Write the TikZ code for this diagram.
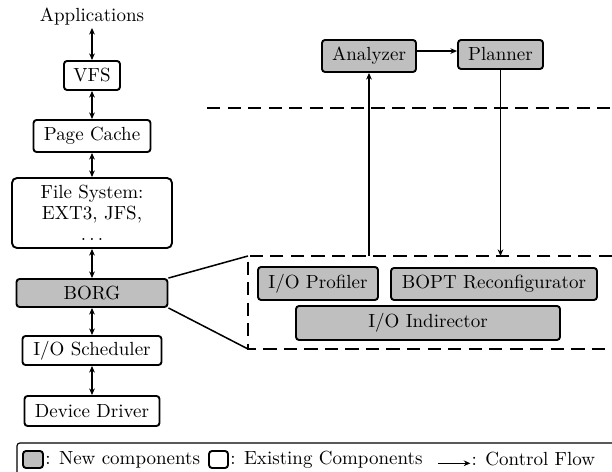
\documentclass[tikz,border=0pt]{standalone}
\usetikzlibrary{arrows.meta,positioning}

\tikzset{
  sz/.style 2 args={minimum width=#1*0.526pt, minimum height=#2*0.526pt},
  comp/.style={draw, line width=1pt, rounded corners=1.6pt, inner sep=0pt},
  newcomp/.style={comp, fill=gray!50},
  oldcomp/.style={comp, fill=white},
  dbl/.style={line width=0.8pt, {Stealth[length=3.5pt,width=3pt]}-{Stealth[length=3.5pt,width=3pt]}},
  ctl/.style={line width=0.8pt, -{Stealth[length=3.5pt,width=3pt]}},
  region/.style={line width=1pt, dash pattern=on 7pt off 3.8pt},
  legtext/.style={anchor=west, inner sep=0pt},
}

\begin{document}
\begin{tikzpicture}[x=0.526pt, y=-0.526pt]
  \useasboundingbox (0,0) rectangle (612,472);

  % ---- storage stack ----
  \node (app) at (92,17) [inner sep=1pt] {Applications};
  \node (vfs) at (92,75.5)  [oldcomp, sz={56}{29}]  {VFS};
  \node (pc)  at (92,136)   [oldcomp, sz={117}{32}] {Page Cache};
  \node (fs)  at (92,213)   [oldcomp, sz={160}{70}, rounded corners=2.6pt, align=center,
                             font={\fontsize{10}{11}\selectfont}] {File System:\\EXT3, JFS,\\$\ldots$};
  \node (borg) at (92,293)  [newcomp, sz={151}{28}] {BORG};
  \node (sch) at (92,350.5) [oldcomp, sz={139}{29}] {I/O Scheduler};
  \node (dd)  at (92,411)   [oldcomp, sz={135}{30}] {Device Driver};

  \draw[dbl] (app) -- (vfs);
  \draw[dbl] (vfs) -- (pc);
  \draw[dbl] (pc) -- (fs);
  \draw[dbl] (fs) -- (borg);
  \draw[dbl] (borg) -- (sch);
  \draw[dbl] (sch) -- (dd);

  % ---- user-level control loop ----
  \node (ana) at (369,56)   [newcomp, sz={94}{32}] {Analyzer};
  \node (pla) at (500.5,54.5) [newcomp, sz={85}{29}] {Planner};
  \draw[ctl] ([yshift=2.6pt]ana.east) -- ([yshift=2.6pt]ana.east -| pla.west);

  % kernel / user boundary
  \coordinate (kl) at (207,108);
  \coordinate (kr) at (612,108);
  \draw[region] (kl) -- (kr);

  % ---- BORG internals ----
  \coordinate (rtl) at (248,256);
  \coordinate (rbl) at (248,349);
  \coordinate (rtr) at (612,256);
  \coordinate (rbr) at (612,349);
  \draw[region] (rtr) -- (rtl) -- (rbl) -- (rbr);
  \draw[line width=0.8pt] (borg.north east) -- (rtl);
  \draw[line width=0.8pt] (borg.south east) -- (rbl);

  \node (prof) at (318,283.5) [newcomp, sz={120}{33}] {I/O Profiler};
  \node (bopt) at (494,284)   [newcomp, sz={206}{32}] {BOPT Reconfigurator};
  \node (ind)  at (428,323)   [newcomp, sz={264}{34}] {I/O Indirector};

  \draw[ctl] (ana.south |- rtl) -- (ana.south);
  \draw[ctl] (pla.south) -- (pla.south |- rtl);

  % ---- legend ----
  \draw[line width=0.6pt, rounded corners=1.5pt] (17,490) -- (17,443) -- (640,443);
  \node (lnew) at (33,459.5) [newcomp, sz={20}{17}] {};
  \node (tnew) [legtext, right=0.5pt of lnew] {: New components};
  \node (lold) [oldcomp, sz={19}{17}, right=4pt of tnew] {};
  \node (told) [legtext, right=0.5pt of lold] {: Existing Components};
  \coordinate (fa) at ([xshift=8pt]told.east);
  \coordinate (fb) at ([xshift=17pt]fa);
  \draw[ctl] ([yshift=-2pt]fa) -- ([yshift=-2pt]fb);
  \node (tctl) [legtext, right=0.5pt of fb] {: Control Flow};
\end{tikzpicture}
\end{document}
